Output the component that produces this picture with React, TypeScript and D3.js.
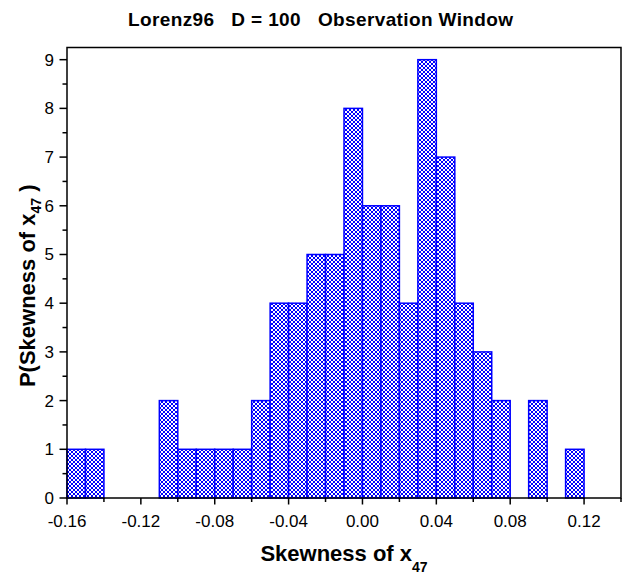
import React from "react";
import * as d3 from "d3";

// histogram of skewness values, bin width 0.01 starting at -0.16
const binStarts = [
  -0.16, -0.15, -0.14, -0.13, -0.12, -0.11, -0.1, -0.09, -0.08, -0.07, -0.06,
  -0.05, -0.04, -0.03, -0.02, -0.01, 0.0, 0.01, 0.02, 0.03, 0.04, 0.05, 0.06,
  0.07, 0.08, 0.09, 0.1, 0.11,
];
const counts = [
  1, 1, 0, 0, 0, 2, 1, 1, 1, 1, 2, 4, 4, 5, 5, 8, 6, 6, 4, 9, 7, 4, 3, 2, 0, 2,
  0, 1,
];
const binWidth = 0.01;
const xMajorTicks = [-0.16, -0.12, -0.08, -0.04, 0.0, 0.04, 0.08, 0.12];
const xMinorTicks = [-0.14, -0.1, -0.06, -0.02, 0.02, 0.06, 0.1, 0.14];
const yMajorTicks = [0, 1, 2, 3, 4, 5, 6, 7, 8, 9];
const yMinorTicks = [0.5, 1.5, 2.5, 3.5, 4.5, 5.5, 6.5, 7.5, 8.5];

const width = 623;
const height = 576;
const margin = { top: 47.5, right: 2, bottom: 78, left: 67 };
const blue = "#0000ff";
const font = "Arial, 'Liberation Sans', Helvetica, sans-serif";

const App: React.FC = () => {
  const x = d3
    .scaleLinear()
    .domain([-0.16, 0.14])
    .range([margin.left, width - margin.right]);
  const y = d3
    .scaleLinear()
    .domain([0, 9.25])
    .range([height - margin.bottom, margin.top]);

  const y0 = y(0);
  const cx = (x.range()[0] + x.range()[1]) / 2;

  return (
    <div style={{ position: "absolute", left: 0, top: 0 }}>
      <svg width={width} height={height} style={{ display: "block" }}>
        <defs>
          <pattern
            id="hatch"
            width={4}
            height={4}
            patternUnits="userSpaceOnUse"
          >
            <rect width={4} height={4} fill="white" />
            <path
              d="M0,0L4,4M4,0L0,4"
              stroke={blue}
              strokeWidth={1}
              fill="none"
            />
          </pattern>
        </defs>
        <rect width={width} height={height} fill="white" />

        {/* bars */}
        {counts.map((c, i) =>
          c > 0 ? (
            <rect
              key={i}
              x={x(binStarts[i])}
              y={y(c)}
              width={x(binStarts[i] + binWidth) - x(binStarts[i])}
              height={y0 - y(c)}
              fill="url(#hatch)"
              stroke={blue}
              strokeWidth={1.5}
            />
          ) : null
        )}

        {/* frame */}
        <rect
          x={x.range()[0]}
          y={margin.top}
          width={x.range()[1] - x.range()[0]}
          height={y0 - margin.top}
          fill="none"
          stroke="black"
          strokeWidth={1.5}
        />

        {/* x ticks */}
        {xMajorTicks.map((t) => (
          <g key={`xm${t}`}>
            <line
              x1={x(t)}
              x2={x(t)}
              y1={y0}
              y2={y0 + 6.5}
              stroke="black"
              strokeWidth={1.5}
            />
            <text
              x={x(t)}
              y={y0 + 29}
              textAnchor="middle"
              fontFamily={font}
              fontSize={17}
            >
              {t.toFixed(2)}
            </text>
          </g>
        ))}
        {xMinorTicks.map((t) => (
          <line
            key={`xn${t}`}
            x1={x(t)}
            x2={x(t)}
            y1={y0}
            y2={y0 + 4}
            stroke="black"
            strokeWidth={1.5}
          />
        ))}

        {/* y ticks */}
        {yMajorTicks.map((t) => (
          <g key={`ym${t}`}>
            <line
              x1={x.range()[0] - 7.5}
              x2={x.range()[0]}
              y1={y(t)}
              y2={y(t)}
              stroke="black"
              strokeWidth={1.5}
            />
            <text
              x={x.range()[0] - 13}
              y={y(t) + 6}
              textAnchor="end"
              fontFamily={font}
              fontSize={17}
            >
              {t}
            </text>
          </g>
        ))}
        {yMinorTicks.map((t) => (
          <line
            key={`yn${t}`}
            x1={x.range()[0] - 4.5}
            x2={x.range()[0]}
            y1={y(t)}
            y2={y(t)}
            stroke="black"
            strokeWidth={1.5}
          />
        ))}

        {/* title */}
        <text
          x={128}
          y={26}
          fontFamily={font}
          fontSize={19}
          fontWeight="bold"
          textLength={385}
          lengthAdjust="spacing"
          style={{ whiteSpace: "pre" }}
        >
          {"Lorenz96   D = 100   Observation Window"}
        </text>

        {/* x label */}
        <text
          x={cx}
          y={561}
          textAnchor="middle"
          fontFamily={font}
          fontSize={22}
          fontWeight="bold"
        >
          Skewness of x
          <tspan fontSize={14} dy={11}>
            47
          </tspan>
        </text>

        {/* y label */}
        <text
          transform={`translate(35,${(margin.top + y0) / 2 + 13}) rotate(-90)`}
          textAnchor="middle"
          fontFamily={font}
          fontSize={22}
          fontWeight="bold"
        >
          P(Skewness of x
          <tspan fontSize={14} dy={6}>
            47
          </tspan>
          <tspan dy={-6}> )</tspan>
        </text>
      </svg>
    </div>
  );
};

export default App;
